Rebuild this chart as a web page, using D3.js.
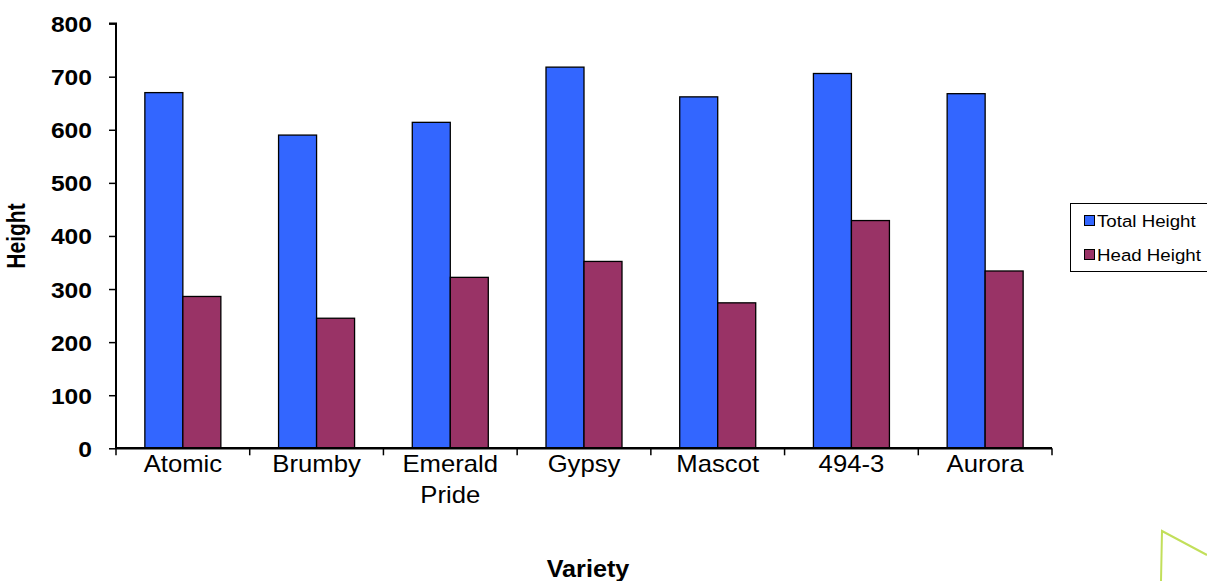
<!DOCTYPE html>
<html><head><meta charset="utf-8">
<script src="https://cdn.jsdelivr.net/npm/d3@7"></script>
<style>body{margin:0;background:#fff}svg{display:block}text{font-family:"Liberation Sans",Arial,sans-serif}</style>
</head><body>
<svg id="c" width="1207" height="581"></svg>
<script>
const categories = ["Atomic","Brumby","Emerald Pride","Gypsy","Mascot","494-3","Aurora"];
const seriesNames = ["Total Height","Head Height"];
const totalHeight = [670,590,614,718,662,706,668];
const headHeight = [286,245,322,352,274,429,334];
const yTicks = [0,100,200,300,400,500,600,700,800];
const colors = ["#3366ff","#993366"];

(function(){
const svg = d3.select("#c");
const pLeft=116, pRight=1052, pTop=23.6, pBottom=448.3;
const x = d3.scaleBand().domain(categories).range([pLeft,pRight]).paddingInner(0).paddingOuter(0);
const y = d3.scaleLinear().domain([0,800]).range([pBottom,pTop]);
const sub = d3.scaleBand().domain(seriesNames).range([0,76]);
const off = (x.bandwidth()-76)/2;
const series=[totalHeight,headHeight];

// bars
seriesNames.forEach((s,si)=>{
  svg.append("g").selectAll("rect").data(categories).join("rect")
    .attr("x",(c)=>x(c)+off+sub(s))
    .attr("y",(c,i)=>y(series[si][i]))
    .attr("width",sub.bandwidth())
    .attr("height",(c,i)=>y(0)-y(series[si][i]))
    .attr("fill",colors[si]).attr("stroke","#000").attr("stroke-width",1.3);
});

// y axis
const ya = svg.append("g").attr("transform",`translate(${pLeft},0)`)
  .call(d3.axisLeft(y).tickValues(yTicks).tickSize(7).tickPadding(0).tickFormat(d3.format("d")));
ya.select(".domain").attr("stroke","#000").attr("stroke-width",2).attr("d",`M-7,${y(800)}H0V${y(0)}`);
ya.selectAll(".tick line").attr("stroke","#000").attr("stroke-width",1.5);
ya.selectAll(".tick text").attr("font-size",22).attr("font-weight","bold").attr("fill","#000")
  .attr("font-family","'Liberation Sans',Arial,sans-serif")
  .attr("x",null).attr("dy",null)
  .attr("transform","translate(-24,8) scale(1.12,1)");

// x axis
const xa = svg.append("g").attr("transform",`translate(0,${pBottom})`);
xa.append("line").attr("x1",pLeft).attr("x2",pRight).attr("y1",0).attr("y2",0).attr("stroke","#000").attr("stroke-width",2.5);
const bounds = categories.map(c=>x(c)).concat([pRight]);
xa.selectAll("line.t").data(bounds).join("line").attr("class","t")
  .attr("x1",d=>d).attr("x2",d=>d).attr("y1",0).attr("y2",7).attr("stroke","#000").attr("stroke-width",1.5);
xa.selectAll("text.lab").data(categories).join("text").attr("class","lab")
  .attr("transform",c=>`translate(${x(c)+x.bandwidth()/2},24) scale(1.07,1)`)
  .attr("text-anchor","middle")
  .attr("font-size",24).attr("fill","#000")
  .each(function(c){
    const parts = c==="Emerald Pride" ? ["Emerald","Pride"] : [c];
    const t=d3.select(this);
    parts.forEach((p,i)=>t.append("tspan").attr("x",0).attr("y",i*31).text(p));
  });

// axis titles
svg.append("text").attr("transform","translate(588,577) scale(1.05,1)").attr("text-anchor","middle")
  .attr("font-size",24).attr("font-weight","bold").text("Variety");
svg.append("text").attr("transform","translate(25,236) scale(1.2,1) rotate(-90)").attr("text-anchor","middle")
  .attr("font-size",21).attr("font-weight","bold").text("Height");

// legend
const lg = svg.append("g");
lg.append("rect").attr("x",1070.5).attr("y",203.5).attr("width",137).attr("height",68)
  .attr("fill","#fff").attr("stroke","#000").attr("stroke-width",1);
seriesNames.forEach((s,i)=>{
  const cy = 221 + i*34;
  lg.append("rect").attr("x",1084.5).attr("y",cy-5.5).attr("width",10).attr("height",10)
    .attr("fill",colors[i]).attr("stroke","#000").attr("stroke-width",1);
  lg.append("text").attr("transform",`translate(1097,${cy+6}) scale(1.1,1)`)
    .attr("font-size",17).attr("fill","#000").text(s);
});

// decorative corner shape
svg.append("path").attr("d","M1207,555 L1162,531 L1161,581")
  .attr("fill","none").attr("stroke","#c2df5a").attr("stroke-width",2);
})();
</script>
</body></html>
